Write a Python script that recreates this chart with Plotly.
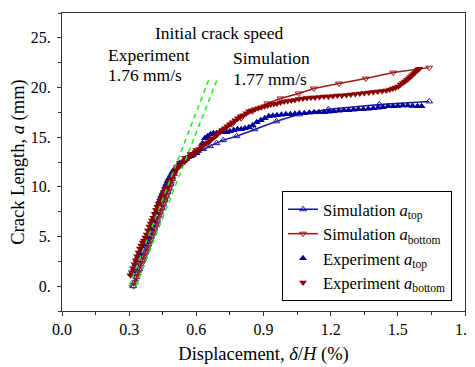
import plotly.graph_objects as go

# ---------------- data ----------------
sim_top_x = [0.318, 0.325, 0.332, 0.338, 0.345, 0.352, 0.358, 0.365, 0.372, 0.378, 0.385, 0.392,
             0.398, 0.405, 0.412, 0.418, 0.425, 0.432, 0.438, 0.445, 0.452, 0.458, 0.465, 0.472,
             0.478, 0.485, 0.492, 0.500, 0.512, 0.525, 0.549, 0.575, 0.601, 0.630, 0.661, 0.690,
             0.720, 0.780, 0.860, 0.958, 1.060, 1.190, 1.417, 1.640]
sim_top_y = [0.0, 0.4, 0.9, 1.3, 1.7, 2.2, 2.6, 3.0, 3.4, 3.8, 4.2, 4.6,
             5.0, 5.4, 5.8, 6.2, 6.6, 7.1, 7.5, 7.9, 8.3, 8.7, 9.1, 9.5,
             9.9, 10.3, 10.8, 11.3, 12.0, 12.4, 12.8, 13.1, 13.4, 13.8, 14.1, 14.4,
             14.7, 15.1, 15.8, 16.6, 17.3, 17.8, 18.3, 18.6]

sim_bot_x = [0.320, 0.327, 0.334, 0.340, 0.347, 0.354, 0.360, 0.367, 0.374, 0.380, 0.387, 0.394,
             0.400, 0.407, 0.414, 0.420, 0.427, 0.434, 0.440, 0.447, 0.454, 0.460, 0.467, 0.474,
             0.480, 0.487, 0.494, 0.502, 0.514, 0.527, 0.549, 0.575, 0.601, 0.630, 0.661, 0.690,
             0.720, 0.760, 0.800, 0.850, 0.917, 0.976, 1.057, 1.125, 1.237, 1.357, 1.480, 1.640]
sim_bot_y = [0.0, 0.4, 0.9, 1.3, 1.7, 2.2, 2.6, 3.0, 3.4, 3.8, 4.2, 4.6,
             5.0, 5.4, 5.8, 6.2, 6.6, 7.1, 7.5, 7.9, 8.3, 8.7, 9.1, 9.5,
             9.9, 10.3, 10.8, 11.3, 12.0, 12.4, 12.9, 13.3, 13.7, 14.2, 14.7, 15.2,
             15.7, 16.3, 16.9, 17.6, 18.4, 18.9, 19.4, 19.9, 20.4, 20.9, 21.5, 22.0]

exp_top_x = [0.310, 0.316, 0.322, 0.328, 0.334, 0.340, 0.346, 0.352, 0.358, 0.364, 0.370, 0.376,
             0.382, 0.388, 0.394, 0.400, 0.406, 0.412, 0.418, 0.424, 0.430, 0.436, 0.442, 0.448,
             0.454, 0.460, 0.466, 0.472, 0.479, 0.486, 0.493, 0.500, 0.508, 0.516, 0.525, 0.534,
             0.544, 0.554, 0.565, 0.576, 0.586, 0.597, 0.608, 0.618, 0.628, 0.638, 0.650, 0.663,
             0.676, 0.690, 0.705, 0.720, 0.735, 0.750, 0.767, 0.784, 0.800, 0.817, 0.835, 0.852,
             0.870, 0.888, 0.906, 0.924, 0.942, 0.960, 0.980, 1.000, 1.020, 1.040, 1.060, 1.082,
             1.104, 1.126, 1.148, 1.170, 1.192, 1.214, 1.236, 1.258, 1.280, 1.302, 1.324, 1.346,
             1.368, 1.390, 1.412, 1.434, 1.456, 1.478, 1.500, 1.522, 1.544, 1.566, 1.588, 1.606]
exp_top_y = [1.2, 1.5, 1.8, 2.2, 2.6, 3.0, 3.3, 3.6, 3.9, 4.2, 4.4, 4.7,
             5.0, 5.4, 5.8, 6.2, 6.6, 7.0, 7.4, 7.8, 8.2, 8.6, 9.0, 9.3,
             9.6, 10.0, 10.3, 10.6, 10.9, 11.2, 11.5, 11.7, 11.9, 12.1, 12.3, 12.4,
             12.6, 12.8, 13.0, 13.1, 13.2, 13.4, 13.6, 13.8, 14.4, 14.9, 15.1, 15.3,
             15.4, 15.4, 15.5, 15.5, 15.5, 15.6, 15.7, 15.8, 15.8, 15.9, 16.0, 16.2,
             16.5, 16.7, 16.9, 17.1, 17.15, 17.2, 17.25, 17.3, 17.3, 17.35, 17.4, 17.4,
             17.45, 17.5, 17.5, 17.5, 17.55, 17.6, 17.65, 17.7, 17.7, 17.75, 17.8, 17.8,
             17.85, 17.9, 17.95, 18.0, 18.1, 18.1, 18.15, 18.2, 18.2, 18.15, 18.1, 18.1]

exp_bot_x = [0.306, 0.312, 0.318, 0.324, 0.330, 0.336, 0.342, 0.348, 0.354, 0.360, 0.366, 0.372,
             0.378, 0.384, 0.390, 0.396, 0.402, 0.408, 0.414, 0.420, 0.426, 0.432, 0.438, 0.444,
             0.450, 0.456, 0.462, 0.468, 0.474, 0.480, 0.487, 0.494, 0.501, 0.509, 0.517, 0.525,
             0.533, 0.541, 0.550, 0.559, 0.568, 0.577, 0.586, 0.595, 0.604, 0.614, 0.624, 0.634,
             0.644, 0.654, 0.664, 0.674, 0.684, 0.694, 0.705, 0.716, 0.727, 0.738, 0.750, 0.762,
             0.774, 0.786, 0.798, 0.810, 0.823, 0.836, 0.849, 0.862, 0.876, 0.890, 0.904, 0.918,
             0.932, 0.946, 0.960, 0.976, 0.992, 1.008, 1.024, 1.040, 1.058, 1.076, 1.094, 1.112,
             1.130, 1.150, 1.170, 1.190, 1.210, 1.230, 1.250, 1.270, 1.290, 1.310, 1.330, 1.350,
             1.370, 1.390, 1.410, 1.430, 1.448, 1.464, 1.478, 1.490, 1.502, 1.512, 1.522, 1.531,
             1.540, 1.548, 1.556, 1.563, 1.570, 1.577, 1.584, 1.590, 1.596]
exp_bot_y = [1.1, 1.4, 1.8, 2.2, 2.6, 3.0, 3.4, 3.8, 4.1, 4.4, 4.6, 4.9,
             5.2, 5.6, 6.0, 6.3, 6.6, 6.9, 7.3, 7.7, 8.0, 8.3, 8.6, 8.9,
             9.2, 9.5, 9.8, 10.0, 10.2, 10.5, 10.8, 11.1, 11.4, 11.7, 11.9, 12.1,
             12.3, 12.4, 12.6, 12.8, 13.0, 13.2, 13.3, 13.5, 13.6, 13.8, 14.0, 14.2,
             14.4, 14.5, 14.7, 14.9, 15.1, 15.3, 15.5, 15.7, 15.9, 16.1, 16.3, 16.5,
             16.7, 16.9, 17.1, 17.2, 17.4, 17.6, 17.7, 17.8, 17.9, 18.0, 18.1, 18.2,
             18.3, 18.35, 18.4, 18.5, 18.6, 18.65, 18.7, 18.75, 18.85, 18.9, 18.95, 19.0,
             19.0, 19.05, 19.1, 19.1, 19.15, 19.2, 19.2, 19.25, 19.3, 19.35, 19.4, 19.45,
             19.5, 19.55, 19.6, 19.65, 19.7, 19.8, 19.9, 20.0, 20.1, 20.3, 20.45, 20.6,
             20.75, 20.9, 21.05, 21.2, 21.35, 21.5, 21.65, 21.8, 21.9]

exp_speed_x = [0.300, 0.661]
exp_speed_y = [0.0, 21.1]
sim_speed_x = [0.330, 0.698]
sim_speed_y = [0.0, 21.1]

x_tickvals = [0.0, 0.3, 0.6, 0.9, 1.2, 1.5, 1.8]
x_ticktext = ["0.0", "0.3", "0.6", "0.9", "1.2", "1.5", "1.8"]
y_tickvals = [0, 5, 10, 15, 20, 25]
y_ticktext = ["0.", "5.", "10.", "15.", "20.", "25."]

BLUE = "#00009c"
RED = "#8c0000"
BLUE_L = "#1a1aa0"
RED_L = "#a01818"
GREEN = "#22ee22"
FONT = "Liberation Serif"

# ---------------- figure ----------------
fig = go.Figure()

fig.add_trace(go.Scatter(
    x=sim_top_x, y=sim_top_y, mode="lines+markers",
    name="Simulation <i>a</i><sub>top</sub>",
    line=dict(color=BLUE_L, width=1.5),
    marker=dict(symbol="triangle-up-open", size=6, color=BLUE_L, line=dict(width=1))))
fig.add_trace(go.Scatter(
    x=sim_bot_x, y=sim_bot_y, mode="lines+markers",
    name="Simulation <i>a</i><sub>bottom</sub>",
    line=dict(color=RED_L, width=1.5),
    marker=dict(symbol="triangle-down-open", size=6, color=RED_L, line=dict(width=1))))
fig.add_trace(go.Scatter(
    x=exp_top_x, y=exp_top_y, mode="markers",
    name="Experiment <i>a</i><sub>top</sub>",
    marker=dict(symbol="triangle-up", size=7, color=BLUE)))
fig.add_trace(go.Scatter(
    x=exp_bot_x, y=exp_bot_y, mode="markers",
    name="Experiment <i>a</i><sub>bottom</sub>",
    marker=dict(symbol="triangle-down", size=7, color=RED)))
fig.add_trace(go.Scatter(
    x=exp_speed_x, y=exp_speed_y, mode="lines", showlegend=False,
    line=dict(color=GREEN, width=1.5, dash="5px,4px")))
fig.add_trace(go.Scatter(
    x=sim_speed_x, y=sim_speed_y, mode="lines", showlegend=False,
    line=dict(color=GREEN, width=1.5, dash="5px,4px")))

# the page body has an 8px margin; figure coords = screen coords - 8
OFF = 8
L, R, T, B = 62 - OFF, 465 - OFF, 13 - OFF, 311 - OFF
W, H = 475, 367
def px(x):
    return (x - OFF - L) / (R - L)
def py(y):
    return (B - (y - OFF)) / (B - T)

annots = [
    ("Initial crack speed", 219, 33, "center"),
    ("Experiment", 106, 55, "left"),
    ("1.76 mm/s", 106, 75, "left"),
    ("Simulation", 231, 58, "left"),
    ("1.77 mm/s", 231, 79, "left"),
]
for txt, ax_, ay_, al in annots:
    fig.add_annotation(text=txt, x=px(ax_), y=py(ay_), xref="paper", yref="paper",
                       xanchor=al, yanchor="middle", showarrow=False,
                       font=dict(family=FONT, size=17.5, color="black"))

axis_common = dict(
    showline=True, linecolor="#333333", linewidth=1, mirror=True,
    ticks="outside", ticklen=4, tickcolor="#333333", showgrid=False, zeroline=False,
    tickfont=dict(family=FONT, size=16, color="black"), automargin=False,
)
fig.update_xaxes(range=[0, 1.8], tickvals=x_tickvals, ticktext=x_ticktext,
                 minor=dict(ticks="outside", ticklen=3, dtick=0.15, tick0=0, tickcolor="#333333"),
                 ticklabelstandoff=0,
                 title=dict(text="Displacement, <i>δ</i>/<i>H</i> (%)",
                            font=dict(family=FONT, size=18.5, color="black"), standoff=9),
                 **axis_common)
fig.update_yaxes(range=[-2.5, 27.5], tickvals=y_tickvals, ticktext=y_ticktext,
                 minor=dict(ticks="outside", ticklen=3, dtick=2.5, tick0=0, tickcolor="#333333"),
                 ticklabelstandoff=3,
                 title=dict(text="Crack Length, <i>a</i> (mm)",
                            font=dict(family=FONT, size=18.5, color="black"), standoff=6),
                 **axis_common)

fig.update_layout(
    width=W, height=H,
    margin=dict(l=L, r=W - R, t=T, b=H - B),
    paper_bgcolor="white", plot_bgcolor="white",
    font=dict(family=FONT, size=16, color="black"),
    legend=dict(x=px(282), y=py(191), xanchor="left", yanchor="top",
                bordercolor="black", borderwidth=1, bgcolor="white",
                font=dict(family=FONT, size=16.5, color="black"),
                tracegroupgap=0, itemwidth=30),
)

fig.write_html("out.html")
